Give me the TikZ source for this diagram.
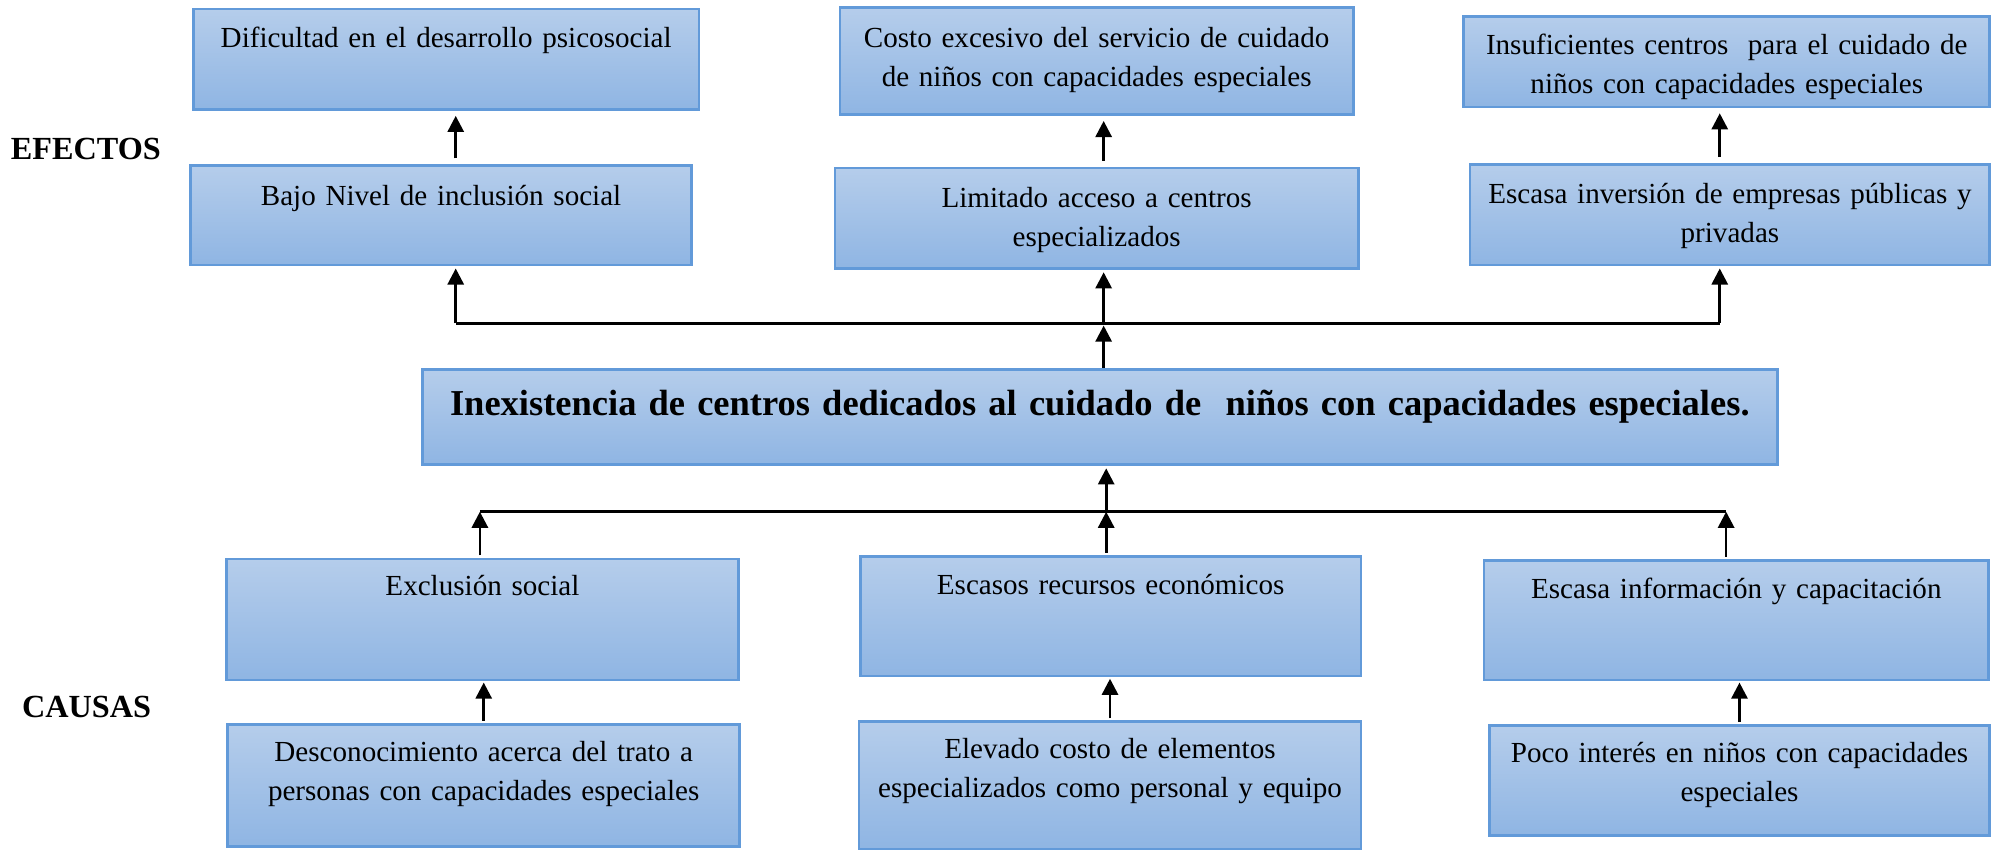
\documentclass[tikz,border=0pt]{standalone}
\usepackage{fontspec}
\setmainfont{Liberation Serif}
\usetikzlibrary{arrows.meta}
\definecolor{boxtop}{RGB}{181,205,235}
\definecolor{boxbot}{RGB}{143,181,227}
\definecolor{boxline}{RGB}{98,154,217}
\tikzset{
  box/.style={draw=boxline, line width=0.6pt, top color=boxtop, bottom color=boxbot,
    anchor=north, inner sep=0pt, align=center, font=\fontsize{6.5}{8.7}\selectfont},
  arr/.style={-{Triangle[length=3.6pt,width=3.6pt]}, line width=0.6pt},
  bus/.style={line width=0.6pt},
  side/.style={font=\fontsize{7.2}{9}\selectfont\bfseries, anchor=base}
}
\begin{document}
\begin{tikzpicture}[x=0.01cm, y=-0.01cm]
        \useasboundingbox (0,0) rectangle (1568,667);
        % efectos
        \node[box, text width=3.97cm, text height=0.30cm, text depth=0.49cm] (a1) at (350.5,6) {Dificultad en el desarrollo psicosocial};
        \node[box, text width=4.03cm, text height=0.31cm, text depth=0.53cm] (b1) at (861.5,5) {Costo excesivo del servicio de cuidado\\de niños con capacidades especiales};
        \node[box, text width=4.13cm, text height=0.30cm, text depth=0.41cm] (c1) at (1356.5,12) {Insuficientes centros\ \ para el cuidado de\\niños con capacidades especiales};
        \node[box, text width=3.93cm, text height=0.31cm, text depth=0.47cm] (a2) at (346.5,129) {Bajo Nivel de inclusión social};
        \node[box, text width=4.11cm, text height=0.31cm, text depth=0.48cm] (b2) at (861.5,131) {Limitado acceso a centros\\especializados};
        \node[box, text width=4.08cm, text height=0.31cm, text depth=0.48cm] (c2) at (1359,128) {Escasa inversión de empresas públicas y\\privadas};
        % problema
        \node[box, text width=10.64cm, text height=0.36cm, text depth=0.39cm, font=\fontsize{8.15}{10}\selectfont\bfseries] (main) at (864,289) {Inexistencia de centros dedicados al cuidado de\ \ niños con capacidades especiales.};
        % causas
        \node[box, text width=4.02cm, text height=0.29cm, text depth=0.66cm] (d1) at (379,438) {Exclusión social};
        \node[box, text width=3.93cm, text height=0.30cm, text depth=0.64cm] (e1) at (872.5,436) {Escasos recursos económicos};
        \node[box, text width=3.96cm, text height=0.30cm, text depth=0.64cm] (f1) at (1364,439) {Escasa información y capacitación};
        \node[box, text width=4.02cm, text height=0.29cm, text depth=0.67cm] (d2) at (380,568) {Desconocimiento acerca del trato a\\personas con capacidades especiales};
        \node[box, text width=3.94cm, text height=0.29cm, text depth=0.71cm] (e2) at (872,566) {Elevado costo de elementos\\especializados como personal y equipo};
        \node[box, text width=3.93cm, text height=0.29cm, text depth=0.57cm] (f2) at (1366.5,569) {Poco interés en niños con capacidades\\especiales};
        \node[side] (efectos) at (67.5,125) {EFECTOS};
        \node[side] (causas) at (68,564) {CAUSAS};
        % lineas
        \coordinate (tl) at (358,254);
        \coordinate (tm) at (867,254);
        \coordinate (tr) at (1351,254);
        \coordinate (bl) at (377,402);
        \coordinate (bm) at (869,402);
        \coordinate (br) at (1356,402);
        \draw[bus] (tl) -- (tr);
        \draw[bus] (bl) -- (br);
        \draw[arr, shorten >=0.5pt] (tl) -- (tl |- a2.south);
        \draw[arr, shorten >=0.5pt] (tm) -- (tm |- b2.south);
        \draw[arr, shorten >=0.5pt] (tr) -- (tr |- c2.south);
        \draw[arr, shorten >=0.5pt] (tm |- main.north) -- (tm);
        \draw[arr, shorten <=1.3pt, shorten >=1.1pt] (tl |- a2.north) -- (tl |- a1.south);
        \draw[arr, shorten <=1.3pt, shorten >=1.1pt] (tm |- b2.north) -- (tm |- b1.south);
        \draw[arr, shorten <=1.3pt, shorten >=1.1pt] (tr |- c2.north) -- (tr |- c1.south);
        \draw[arr, shorten >=0.5pt] (bm) -- (bm |- main.south);
        \draw[arr, shorten <=0.5pt] (bl |- d1.north) -- (bl);
        \draw[arr, shorten <=0.5pt] (bm |- e1.north) -- (bm);
        \draw[arr, shorten <=0.5pt] (br |- f1.north) -- (br);
        \draw[arr, shorten <=0.5pt, shorten >=0.3pt] (d2.north) -- (d2.north |- d1.south);
        \draw[arr, shorten <=0.5pt, shorten >=0.3pt] (e2.north) -- (e2.north |- e1.south);
        \draw[arr, shorten <=0.5pt, shorten >=0.3pt] (f2.north) -- (f2.north |- f1.south);
\end{tikzpicture}
\end{document}
